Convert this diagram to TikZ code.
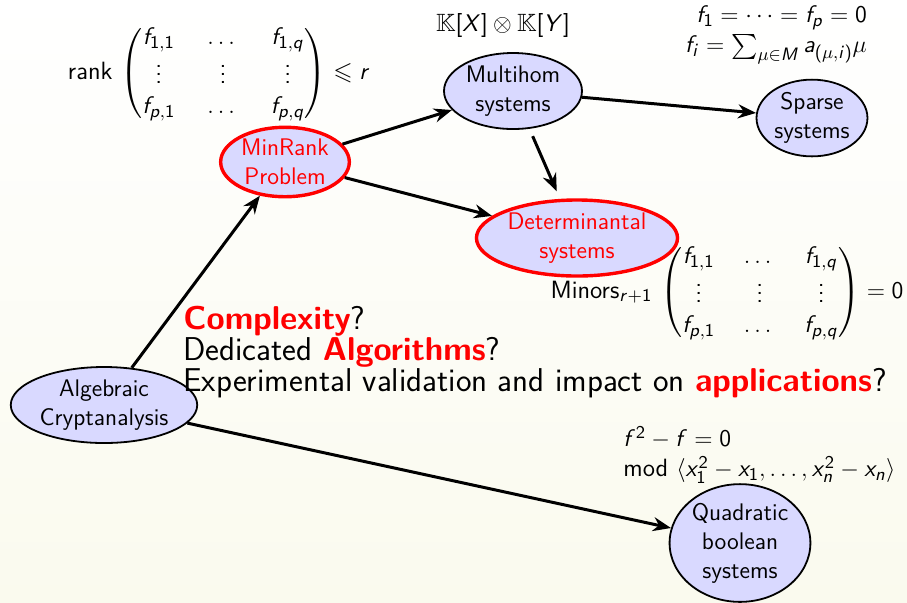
\documentclass[tikz,border=0pt]{standalone}
\usepackage{amsmath,amssymb}
\usetikzlibrary{shapes.geometric,arrows.meta}
\DeclareSymbolFont{sfletters}{OT1}{cmss}{m}{sl}
\SetSymbolFont{operators}{normal}{OT1}{cmss}{m}{n}
\DeclareMathSymbol{a}{\mathalpha}{sfletters}{`a}
\DeclareMathSymbol{f}{\mathalpha}{sfletters}{`f}
\DeclareMathSymbol{i}{\mathalpha}{sfletters}{`i}
\DeclareMathSymbol{n}{\mathalpha}{sfletters}{`n}
\DeclareMathSymbol{p}{\mathalpha}{sfletters}{`p}
\DeclareMathSymbol{q}{\mathalpha}{sfletters}{`q}
\DeclareMathSymbol{r}{\mathalpha}{sfletters}{`r}
\DeclareMathSymbol{x}{\mathalpha}{sfletters}{`x}
\DeclareMathSymbol{M}{\mathalpha}{sfletters}{`M}
\DeclareMathSymbol{X}{\mathalpha}{sfletters}{`X}
\DeclareMathSymbol{Y}{\mathalpha}{sfletters}{`Y}
\definecolor{cream}{RGB}{250,250,238}
\definecolor{nodefill}{RGB}{217,217,255}
\newcommand{\sysfont}{\sffamily\fontsize{12}{14.5}\selectfont}
\newcommand{\lblfont}{\sffamily\fontsize{12.5}{15}\selectfont\setlength{\arraycolsep}{8pt}}
\newcommand{\bigfont}{\sffamily\fontsize{16.5}{15.5}\selectfont}
\newcommand{\hl}[1]{\textcolor{red}{\textbf{#1}}}
\tikzset{
  sysnode/.style={ellipse, draw=black, line width=0.9pt, fill=nodefill, inner sep=0.8pt, align=center, font=\sysfont},
  rednode/.style={sysnode, draw=red, line width=1.7pt, text=red},
  lbl/.style={inner sep=0pt, font=\lblfont},
  bigtxt/.style={inner sep=0pt, align=left, font=\bigfont},
  conn/.style={-{Stealth[length=9pt,width=7pt]}, line width=1.5pt},
}
\begin{document}
\begin{tikzpicture}[x=0.5pt,y=-0.5pt]
\useasboundingbox (0,0) rectangle (907,602);
\shade[top color=white, bottom color=cream] (0,0) rectangle (907,602);
\node[sysnode] (alg) at (104,405) {Algebraic\\Cryptanalysis};
\node[rednode] (minrank) at (285,162) {MinRank\\Problem};
\node[sysnode] (multi) at (513,91) {Multihom\\systems};
\node[sysnode] (sparse) at (812,118) {Sparse\\systems};
\node[rednode] (det) at (577,238) {Determinantal\\systems};
\node[sysnode] (quad) at (740,543) {Quadratic\\boolean\\systems};
\node[lbl] (ranklbl) at (219,73) {rank $\begin{pmatrix} f_{1,1} & \dots & f_{1,q}\\ \vdots & \vdots & \vdots\\ f_{p,1} & \dots & f_{p,q}\end{pmatrix} \leqslant r$};
\node[lbl] (kxky) at (503,25) {$\mathbb{K}[X]\otimes\mathbb{K}[Y]$};
\node[lbl, align=right] (sparselbl) at (776,35) {$f_1 = \cdots = f_p = 0$\\ $f_i = \sum_{\mu\in M} a_{(\mu,i)}\mu$};
\node[lbl] (minorslbl) at (727,292) {\setlength{\arraycolsep}{7.2pt}Minors$_{r+1}$ $\begin{pmatrix} f_{1,1} & \dots & f_{1,q}\\ \vdots & \vdots & \vdots\\ f_{p,1} & \dots & f_{p,q}\end{pmatrix} = 0$};
\node[lbl, anchor=west, align=left] (boollbl) at (623,455) {$f^2 - f = 0$\\ mod $\langle x_1^2 - x_1, \dots, x_n^2 - x_n\rangle$};
\node[bigtxt, anchor=north west] (questions) at (183,306) {\hl{Complexity}?\\ Dedicated \hl{Algorithms}?\\ Experimental validation and impact on \hl{applications}?};
\draw[conn] (alg) -- (minrank);
\draw[conn] (minrank) -- (multi);
\draw[conn] (minrank) -- (det);
\draw[conn, shorten <=4pt, shorten >=4pt] (multi) -- (det);
\draw[conn] (multi) -- (sparse);
\draw[conn] (alg) -- (quad);
\end{tikzpicture}
\end{document}
